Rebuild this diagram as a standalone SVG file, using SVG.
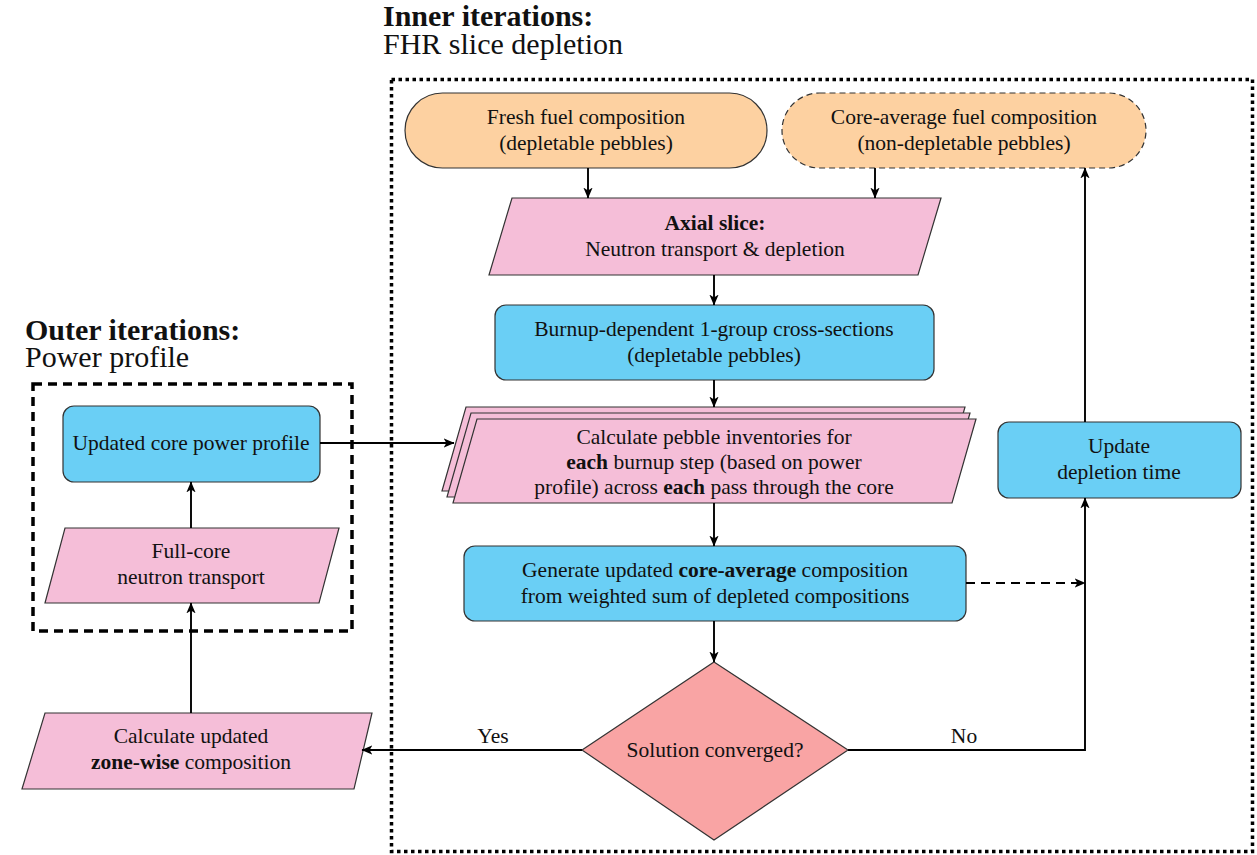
<svg xmlns="http://www.w3.org/2000/svg" width="1257" height="855" viewBox="0 0 1257 855">
<style>
text{font-family:"Liberation Serif","Times New Roman",serif;fill:#111;}
.t{font-size:21.5px;text-anchor:middle;}
.title{font-size:30px;}
.b{font-weight:bold;}
.peach{fill:#FDD1A1;stroke:#333;stroke-width:1.2;}
.pink{fill:#F5BED8;stroke:#333;stroke-width:1.2;}
.blue{fill:#6ACFF5;stroke:#333;stroke-width:1.2;}
.red{fill:#F9A4A4;stroke:#333;stroke-width:1.2;}
.c{fill:none;stroke:#000;stroke-width:1.9;}
</style>
<defs>
<marker id="ah" viewBox="0 0 10 10" refX="9.5" refY="5" markerWidth="11" markerHeight="11" markerUnits="userSpaceOnUse" orient="auto">
<path d="M0,0.8 L10,5 L0,9.2 L2.6,5 Z" fill="#000"/>
</marker>
</defs>
<rect width="1257" height="855" fill="#fff"/>

<g id="titles">
<text class="title b" x="383" y="26">Inner iterations:</text>
<text class="title" x="383" y="54">FHR slice depletion</text>
<text class="title b" x="25" y="340">Outer iterations:</text>
<text class="title" x="25" y="367">Power profile</text>
</g>

<g id="frames">
<rect x="391.5" y="79.5" width="861" height="772" fill="none" stroke="#000" stroke-width="3.5" stroke-dasharray="3.5 3.5"/>
<rect x="33" y="384" width="319" height="247" fill="none" stroke="#000" stroke-width="3.5" stroke-dasharray="9 6"/>
</g>

<g id="fresh">
<rect class="peach" x="405" y="93" width="362" height="75" rx="37.5"/>
<text class="t" x="586" y="124">Fresh fuel composition</text>
<text class="t" x="586" y="150">(depletable pebbles)</text>
</g>

<g id="coreavg">
<rect class="peach" x="782" y="93" width="364" height="75" rx="37.5" stroke-dasharray="6 4" stroke="#555"/>
<text class="t" x="964" y="124">Core-average fuel composition</text>
<text class="t" x="964" y="150">(non-depletable pebbles)</text>
</g>

<g id="axial">
<polygon class="pink" points="512,198 941,198 918,275 489,275"/>
<text class="t b" x="715" y="230">Axial slice:</text>
<text class="t" x="715" y="256">Neutron transport &amp; depletion</text>
</g>

<g id="burnup">
<rect class="blue" x="495" y="305" width="439" height="75" rx="11"/>
<text class="t" x="714" y="336">Burnup-dependent 1-group cross-sections</text>
<text class="t" x="714" y="362">(depletable pebbles)</text>
</g>

<g id="inventories">
<polygon class="pink" points="466,407 965,407 941,491 442,491"/>
<polygon class="pink" points="471,413 970,413 946,497 447,497"/>
<polygon class="pink" points="477,419 976,419 952,503 453,503"/>
<text class="t" x="714" y="444">Calculate pebble inventories for</text>
<text class="t" x="714" y="469"><tspan class="b">each</tspan> burnup step (based on power</text>
<text class="t" x="714" y="494">profile) across <tspan class="b">each</tspan> pass through the core</text>
</g>

<g id="generate">
<rect class="blue" x="464" y="546" width="502" height="75" rx="11"/>
<text class="t" x="715" y="577">Generate updated <tspan class="b">core-average</tspan> composition</text>
<text class="t" x="715" y="603">from weighted sum of depleted compositions</text>
</g>

<g id="converged">
<polygon class="red" points="714,662 848,750 714,840 582,750"/>
<text class="t" x="715" y="757">Solution converged?</text>
</g>

<g id="update">
<rect class="blue" x="998" y="422" width="243" height="76" rx="11"/>
<text class="t" x="1119" y="453">Update</text>
<text class="t" x="1119" y="479">depletion time</text>
</g>

<g id="power">
<rect class="blue" x="63" y="406" width="257" height="76" rx="11"/>
<text class="t" x="191" y="450">Updated core power profile</text>
</g>

<g id="fullcore">
<polygon class="pink" points="65,528 339,528 319,603 45,603"/>
<text class="t" x="191" y="558">Full-core</text>
<text class="t" x="191" y="584">neutron transport</text>
</g>

<g id="zonewise">
<polygon class="pink" points="45,713 372,713 354,789 22,789"/>
<text class="t" x="191" y="743">Calculate updated</text>
<text class="t" x="191" y="769"><tspan class="b">zone-wise</tspan> composition</text>
</g>

<g id="connectors">
<line class="c" x1="588" y1="168" x2="588" y2="198" marker-end="url(#ah)"/>
<line class="c" x1="875" y1="168" x2="875" y2="198" marker-end="url(#ah)"/>
<line class="c" x1="714" y1="275" x2="714" y2="305" marker-end="url(#ah)"/>
<line class="c" x1="714" y1="380" x2="714" y2="407" marker-end="url(#ah)"/>
<line class="c" x1="320" y1="443" x2="454" y2="443" marker-end="url(#ah)"/>
<line class="c" x1="714" y1="503" x2="714" y2="546" marker-end="url(#ah)"/>
<line class="c" x1="966" y1="583" x2="1085" y2="583" stroke-dasharray="9 6" marker-end="url(#ah)"/>
<line class="c" x1="714" y1="621" x2="714" y2="662" marker-end="url(#ah)"/>
<line class="c" x1="582" y1="750" x2="362" y2="750" marker-end="url(#ah)"/>
<polyline class="c" points="848,750 1085,750 1085,498" marker-end="url(#ah)"/>
<line class="c" x1="1085" y1="422" x2="1085" y2="168" marker-end="url(#ah)"/>
<line class="c" x1="191" y1="528" x2="191" y2="482" marker-end="url(#ah)"/>
<line class="c" x1="191" y1="713" x2="191" y2="603" marker-end="url(#ah)"/>
<text class="t" x="493" y="743">Yes</text>
<text class="t" x="964" y="743">No</text>
</g>
</svg>
